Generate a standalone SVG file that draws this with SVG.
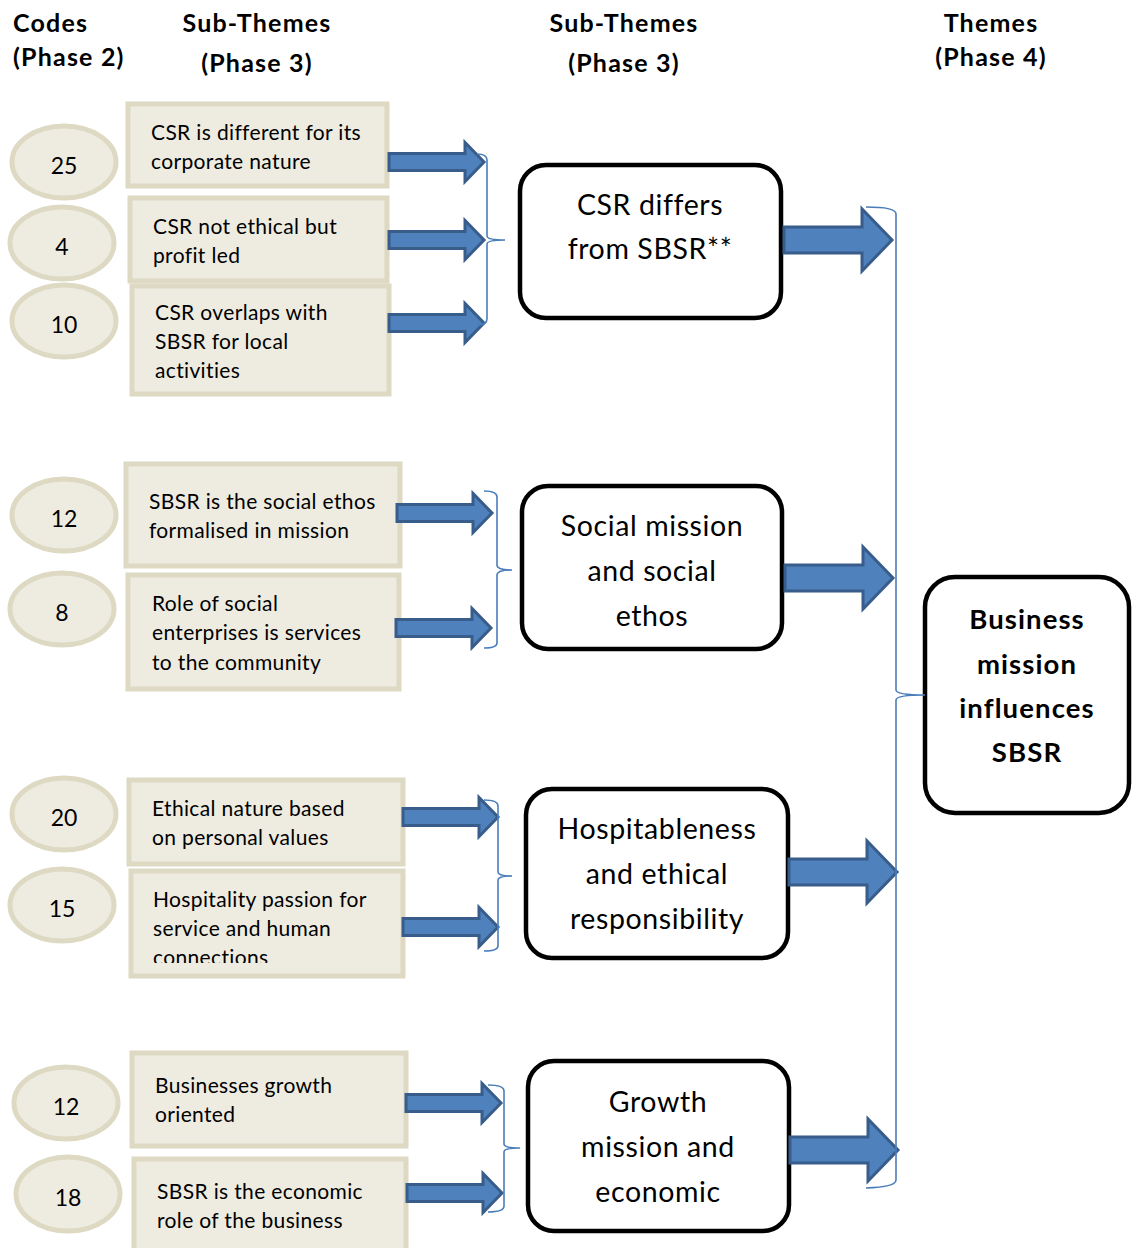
<svg xmlns="http://www.w3.org/2000/svg" width="1139" height="1248" viewBox="0 0 1139 1248">
  <style>
    .hdr { font-family: Lato, "Open Sans", sans-serif; font-weight: bold; font-size: 25px; letter-spacing: 1.2px; fill: #000; }
    .code ellipse { fill: #EEECE1; stroke: #DDD9C3; stroke-width: 5; }
    .code text { font-family: Lato, "Open Sans", sans-serif; font-size: 23px; fill: #000; text-anchor: middle; }
    .sub rect { fill: #EEECE1; stroke: #DDD9C3; stroke-width: 5; }
    .sub text { font-family: Lato, "Open Sans", sans-serif; font-size: 21px; letter-spacing: 0.35px; fill: #000; }
    .grp rect { fill: #fff; stroke: #000; stroke-width: 4.5; }
    .grp text { font-family: Lato, "Open Sans", sans-serif; font-size: 28.5px; letter-spacing: 0.6px; fill: #000; text-anchor: middle; }
    .theme rect { fill: #fff; stroke: #000; stroke-width: 4.5; }
    .theme text { font-family: Lato, "Open Sans", sans-serif; font-weight: bold; font-size: 27.5px; letter-spacing: 1.1px; fill: #000; text-anchor: middle; }
    .arrow { fill: #4F81BD; stroke: #385D8A; stroke-width: 3; stroke-linejoin: miter; }
    .brace { fill: none; stroke: #4A7EBB; stroke-width: 1.6; }
  </style>
  <defs>
    <!-- block arrows drawn from their tail at (0,0) -->
    <path id="arrowSmall" d="M0,-8.5 L76,-8.5 L76,-19.5 L95,0 L76,19.5 L76,8.5 L0,8.5 Z"/>
    <path id="arrowBig" d="M0,-13 L78,-13 L78,-31 L108,0 L78,31 L78,13 L0,13 Z"/>
    <clipPath id="clipHosp"><rect x="130" y="870" width="274" height="93"/></clipPath>
  </defs>
  <rect width="1139" height="1248" fill="#fff"/>

  <!-- column headings -->
  <g id="headings">
    <text class="hdr" x="13" y="32">Codes</text>
    <text class="hdr" x="13" y="66">(Phase 2)</text>
    <text class="hdr" x="257" y="32" text-anchor="middle">Sub-Themes</text>
    <text class="hdr" x="257" y="72" text-anchor="middle">(Phase 3)</text>
    <text class="hdr" x="624" y="32" text-anchor="middle">Sub-Themes</text>
    <text class="hdr" x="624" y="72" text-anchor="middle">(Phase 3)</text>
    <text class="hdr" x="991" y="32" text-anchor="middle">Themes</text>
    <text class="hdr" x="991" y="66" text-anchor="middle">(Phase 4)</text>
  </g>

  <!-- code counts -->
  <g id="code-25" class="code"><ellipse cx="64" cy="162" rx="52" ry="36"/><text x="64" y="174">25</text></g>
  <g id="code-4" class="code"><ellipse cx="62" cy="243" rx="52" ry="36"/><text x="62" y="255">4</text></g>
  <g id="code-10" class="code"><ellipse cx="64" cy="321" rx="52" ry="36"/><text x="64" y="333">10</text></g>
  <g id="code-12a" class="code"><ellipse cx="64" cy="515" rx="52" ry="36"/><text x="64" y="527">12</text></g>
  <g id="code-8" class="code"><ellipse cx="62" cy="609" rx="52" ry="36"/><text x="62" y="621">8</text></g>
  <g id="code-20" class="code"><ellipse cx="64" cy="814" rx="52" ry="36"/><text x="64" y="826">20</text></g>
  <g id="code-15" class="code"><ellipse cx="62" cy="905" rx="52" ry="36"/><text x="62" y="917">15</text></g>
  <g id="code-12b" class="code"><ellipse cx="66" cy="1103" rx="52" ry="36"/><text x="66" y="1115">12</text></g>
  <g id="code-18" class="code"><ellipse cx="68" cy="1194" rx="52" ry="37"/><text x="68" y="1206">18</text></g>

  <!-- phase 3 sub-themes -->
  <g id="sub-corporate" class="sub">
    <rect x="128" y="104" width="259" height="82"/>
    <text x="151" y="140">CSR is different for its</text>
    <text x="151" y="169">corporate nature</text>
  </g>
  <g id="sub-profit" class="sub">
    <rect x="130" y="198" width="257" height="83"/>
    <text x="153" y="234">CSR not ethical but</text>
    <text x="153" y="263">profit led</text>
  </g>
  <g id="sub-overlap" class="sub">
    <rect x="132" y="286" width="257" height="108"/>
    <text x="155" y="320">CSR overlaps with</text>
    <text x="155" y="349">SBSR for local</text>
    <text x="155" y="378">activities</text>
  </g>
  <g id="sub-ethos" class="sub">
    <rect x="126" y="464" width="274" height="102"/>
    <text x="149" y="509">SBSR is the social ethos</text>
    <text x="149" y="538">formalised in mission</text>
  </g>
  <g id="sub-community" class="sub">
    <rect x="128" y="575" width="271" height="114"/>
    <text x="152" y="611">Role of social</text>
    <text x="152" y="640">enterprises is services</text>
    <text x="152" y="670">to the community</text>
  </g>
  <g id="sub-values" class="sub">
    <rect x="129" y="780" width="274" height="84"/>
    <text x="152" y="816">Ethical nature based</text>
    <text x="152" y="845">on personal values</text>
  </g>
  <g id="sub-hospitality" class="sub">
    <rect x="131" y="871" width="272" height="105"/>
    <g clip-path="url(#clipHosp)">
      <text x="153" y="907">Hospitality passion for</text>
      <text x="153" y="936">service and human</text>
      <text x="153" y="965">connections</text>
    </g>
  </g>
  <g id="sub-growth" class="sub">
    <rect x="132" y="1053" width="274" height="93"/>
    <text x="155" y="1093">Businesses growth</text>
    <text x="155" y="1122">oriented</text>
  </g>
  <g id="sub-economic" class="sub">
    <rect x="134" y="1159" width="272" height="100"/>
    <text x="157" y="1199">SBSR is the economic</text>
    <text x="157" y="1228">role of the business</text>
  </g>

  <!-- grouped sub-themes -->
  <g id="grp-csr" class="grp">
    <rect x="520" y="165" width="261" height="153" rx="26"/>
    <text x="650" y="215">CSR differs</text>
    <text x="650" y="259">from SBSR**</text>
  </g>
  <g id="grp-social" class="grp">
    <rect x="522" y="486" width="260" height="163" rx="26"/>
    <text x="652" y="536">Social mission</text>
    <text x="652" y="581">and social</text>
    <text x="652" y="626">ethos</text>
  </g>
  <g id="grp-hospitable" class="grp">
    <rect x="526" y="789" width="262" height="169" rx="26"/>
    <text x="657" y="839">Hospitableness</text>
    <text x="657" y="884">and ethical</text>
    <text x="657" y="929">responsibility</text>
  </g>
  <g id="grp-growth" class="grp">
    <rect x="528" y="1061" width="261" height="170" rx="26"/>
    <text x="658" y="1112">Growth</text>
    <text x="658" y="1157">mission and</text>
    <text x="658" y="1202">economic</text>
  </g>

  <!-- phase 4 theme -->
  <g id="theme-business" class="theme">
    <rect x="925" y="577" width="204" height="236" rx="30"/>
    <text x="1027" y="629">Business</text>
    <text x="1027" y="674">mission</text>
    <text x="1027" y="718">influences</text>
    <text x="1027" y="762">SBSR</text>
  </g>

  <!-- connectors: block arrows and grouping braces -->
  <g id="connectors">
    <use href="#arrowSmall" class="arrow" x="389" y="162"/>
    <use href="#arrowSmall" class="arrow" x="389" y="240"/>
    <use href="#arrowSmall" class="arrow" x="389" y="323"/>
    <use href="#arrowSmall" class="arrow" x="397" y="513"/>
    <use href="#arrowSmall" class="arrow" x="396" y="628"/>
    <use href="#arrowSmall" class="arrow" x="403" y="817"/>
    <use href="#arrowSmall" class="arrow" x="403" y="927"/>
    <use href="#arrowSmall" class="arrow" x="406" y="1103"/>
    <use href="#arrowSmall" class="arrow" x="407" y="1193"/>

    <use href="#arrowBig" class="arrow" x="784" y="240"/>
    <use href="#arrowBig" class="arrow" x="785" y="578"/>
    <use href="#arrowBig" class="arrow" x="789" y="872"/>
    <use href="#arrowBig" class="arrow" x="790" y="1150"/>

    <path class="brace" d="M477,154 Q487,154 487,160 L487,236 Q487,240 505,240 Q487,240 487,244 L487,319 Q487,325 477,325"/>
    <path class="brace" d="M484,491 Q497,491 497,497 L497,565 Q497,570 512,570 Q497,570 497,575 L497,643 Q497,648 484,648"/>
    <path class="brace" d="M484,800 Q498,800 498,806 L498,872 Q498,876 512,876 Q498,876 498,880 L498,946 Q498,951 484,951"/>
    <path class="brace" d="M488,1085 Q504,1085 504,1091 L504,1144 Q504,1148 520,1148 Q504,1148 504,1152 L504,1206 Q504,1212 488,1212"/>
    <path class="brace" d="M866,207 Q896,207 896,214 L896,690 Q896,695 925,695 Q896,695 896,700 L896,1180 Q896,1187 866,1188"/>
  </g>
</svg>
